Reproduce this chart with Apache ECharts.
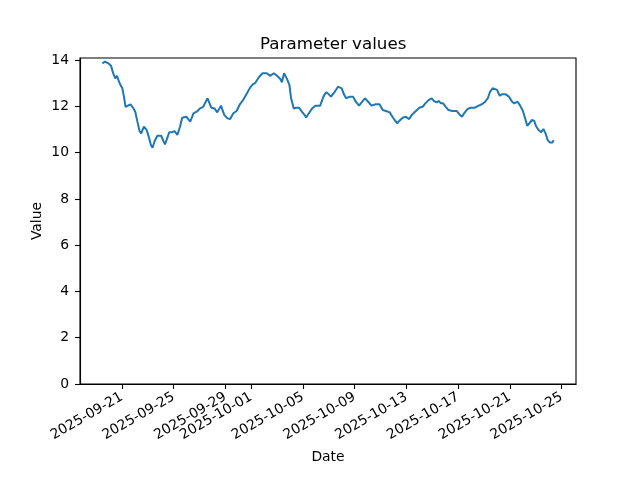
<!DOCTYPE html>
<html>
<head>
<meta charset="utf-8">
<script src="https://cdn.jsdelivr.net/npm/echarts@6/dist/echarts.min.js"></script>
<style>html,body{margin:0;padding:0;background:#fff}#c{width:640px;height:480px}</style>
</head>
<body>
<div id="c"></div>
<script>
const dates = [
'2025-09-19 12:00','2025-09-19 17:00','2025-09-19 23:00','2025-09-20 04:00','2025-09-20 08:00','2025-09-20 12:00','2025-09-20 15:00','2025-09-20 20:00',
'2025-09-21 01:00','2025-09-21 04:00','2025-09-21 07:00','2025-09-21 10:00','2025-09-21 16:00','2025-09-21 21:00',
'2025-09-22 01:00','2025-09-22 05:00','2025-09-22 09:00','2025-09-22 12:00','2025-09-22 17:00','2025-09-22 22:00',
'2025-09-23 02:00','2025-09-23 06:00','2025-09-23 09:00','2025-09-23 13:00','2025-09-23 18:00',
'2025-09-24 01:00','2025-09-24 08:00','2025-09-24 11:00','2025-09-24 16:00','2025-09-24 21:00',
'2025-09-25 02:00','2025-09-25 07:00','2025-09-25 12:00','2025-09-25 16:00',
'2025-09-26 00:00','2025-09-26 07:00','2025-09-26 13:00','2025-09-26 19:00',
'2025-09-27 01:00','2025-09-27 07:00','2025-09-27 15:00','2025-09-27 22:00',
'2025-09-28 04:00','2025-09-28 09:00','2025-09-28 16:00','2025-09-28 22:00',
'2025-09-29 04:00','2025-09-29 09:00','2025-09-29 15:00','2025-09-29 21:00',
'2025-09-30 03:00','2025-09-30 09:00','2025-09-30 16:00','2025-09-30 22:00',
'2025-10-01 03:00','2025-10-01 07:00','2025-10-01 11:00','2025-10-01 15:00','2025-10-01 21:00',
'2025-10-02 05:00','2025-10-02 11:00','2025-10-02 18:00',
'2025-10-03 00:00','2025-10-03 06:00','2025-10-03 09:00','2025-10-03 13:00','2025-10-03 18:00','2025-10-03 23:00',
'2025-10-04 02:00','2025-10-04 07:00','2025-10-04 11:00','2025-10-04 17:00','2025-10-04 22:00',
'2025-10-05 03:00','2025-10-05 06:00','2025-10-05 11:00','2025-10-05 17:00','2025-10-05 23:00',
'2025-10-06 08:00','2025-10-06 14:00','2025-10-06 19:00',
'2025-10-07 00:00','2025-10-07 04:00','2025-10-07 11:00','2025-10-07 17:00',
'2025-10-08 00:00','2025-10-08 04:00','2025-10-08 08:00','2025-10-08 15:00','2025-10-08 21:00',
'2025-10-09 02:00','2025-10-09 08:00','2025-10-09 14:00','2025-10-09 19:00',
'2025-10-10 01:00','2025-10-10 07:00','2025-10-10 15:00','2025-10-10 22:00',
'2025-10-11 04:00','2025-10-11 10:00','2025-10-11 17:00','2025-10-11 22:00',
'2025-10-12 02:00','2025-10-12 07:00','2025-10-12 11:00','2025-10-12 17:00','2025-10-12 23:00',
'2025-10-13 05:00','2025-10-13 10:00','2025-10-13 16:00',
'2025-10-14 00:00','2025-10-14 06:00','2025-10-14 11:00','2025-10-14 17:00','2025-10-14 23:00',
'2025-10-15 03:00','2025-10-15 08:00','2025-10-15 12:00','2025-10-15 16:00','2025-10-15 20:00',
'2025-10-16 01:00','2025-10-16 06:00','2025-10-16 13:00','2025-10-16 21:00',
'2025-10-17 02:00','2025-10-17 07:00','2025-10-17 11:00','2025-10-17 17:00','2025-10-17 23:00',
'2025-10-18 07:00','2025-10-18 14:00','2025-10-18 20:00',
'2025-10-19 02:00','2025-10-19 07:00','2025-10-19 11:00','2025-10-19 16:00','2025-10-19 19:00',
'2025-10-20 00:00','2025-10-20 05:00','2025-10-20 09:00','2025-10-20 16:00','2025-10-20 22:00',
'2025-10-21 04:00','2025-10-21 08:00','2025-10-21 14:00','2025-10-21 19:00',
'2025-10-22 00:00','2025-10-22 05:00','2025-10-22 08:00','2025-10-22 12:00','2025-10-22 17:00','2025-10-22 21:00',
'2025-10-23 00:00','2025-10-23 05:00','2025-10-23 10:00','2025-10-23 14:00','2025-10-23 18:00','2025-10-23 22:00',
'2025-10-24 02:00','2025-10-24 07:00','2025-10-24 09:00'
];
const values = [
13.86,13.93,13.86,13.76,13.43,13.21,13.32,13.00,
12.78,12.42,11.98,11.91,12.09,11.94,
11.77,11.34,10.93,10.83,11.12,10.98,
10.69,10.33,10.21,10.50,10.73,
10.73,10.36,10.54,10.88,10.88,
10.93,10.76,11.12,11.51,
11.55,11.34,11.70,11.77,
11.91,11.98,12.35,11.94,
11.91,11.74,12.03,11.63,
11.48,11.45,11.70,11.80,
12.09,12.27,12.56,12.81,
12.95,13.00,13.14,13.28,13.43,
13.43,13.32,13.43,
13.32,13.18,13.04,13.43,13.21,12.92,
12.35,11.91,11.94,11.94,11.77,
11.63,11.52,11.70,11.91,12.03,
12.03,12.42,12.61,
12.52,12.42,12.63,12.85,
12.78,12.52,12.35,12.42,12.42,
12.20,12.03,12.20,12.35,
12.20,12.03,12.09,12.09,
11.84,11.80,11.74,11.55,
11.41,11.27,11.38,11.51,11.55,
11.45,11.63,11.77,
11.94,11.98,12.13,12.27,12.35,
12.23,12.17,12.23,12.13,12.13,
11.98,11.84,11.80,11.80,
11.66,11.55,11.70,11.88,11.94,
11.94,12.03,12.09,
12.20,12.35,12.63,12.78,12.85,
12.71,12.46,12.52,12.52,12.42,
12.20,12.13,12.20,12.03,
11.80,11.41,11.16,11.27,11.41,11.37,
11.16,10.98,10.88,11.02,10.83,10.54,
10.44,10.44,10.54
];
const xTickLabels = ['2025-09-21','2025-09-25','2025-09-29','2025-10-01','2025-10-05','2025-10-09','2025-10-13','2025-10-17','2025-10-21','2025-10-25'];
const yTickValues = [0,2,4,6,8,10,12,14];
const xRange = ['2025-09-17 18:30','2025-10-26 02:30'];

function parseUTC(s){
  const [d,t] = s.split(' ');
  const [Y,M,D] = d.split('-').map(Number);
  let h=0,mi=0;
  if(t){ [h,mi] = t.split(':').map(Number); }
  return Date.UTC(Y,M-1,D,h,mi);
}
function fmt(v){ return new Date(v).toISOString().slice(0,10); }

const data = dates.map((d,i)=>[parseUTC(d), values[i]]);
const xTicks = xTickLabels.map(parseUTC);
const font = 'DejaVu Sans';

const chart = echarts.init(document.getElementById('c'), null, {renderer:'canvas'});
chart.setOption({
  animation:false,
  backgroundColor:'#fff',
  title:{text:'Parameter values', left:255, top:31,
    textStyle:{fontFamily:font, fontSize:16.7, fontWeight:'normal', color:'#000'}},
  grid:{left:80, right:64, top:58, bottom:96, show:true, borderColor:'#000', borderWidth:1.1, containLabel:false},
  xAxis:{
    type:'value', min:parseUTC(xRange[0]), max:parseUTC(xRange[1]),
    name:'Date', nameLocation:'middle', nameGap:66, nameMoveOverlap:false,
    nameTextStyle:{fontFamily:font, fontSize:13.9, color:'#000'},
    axisLine:{show:true, lineStyle:{color:'#000', width:1.1}},
    axisTick:{show:true, customValues:xTicks, length:5, lineStyle:{color:'#000', width:1.1}},
    axisLabel:{show:true, customValues:xTicks, rotate:30, margin:12, formatter:fmt,
      fontFamily:font, fontSize:13.9, color:'#000'},
    splitLine:{show:false}
  },
  yAxis:{
    type:'value', min:0, max:14.09,
    name:'Value', nameLocation:'middle', nameGap:36, nameMoveOverlap:false,
    nameTextStyle:{fontFamily:font, fontSize:13.9, color:'#000'},
    axisLine:{show:true, lineStyle:{color:'#000', width:1.1}},
    axisTick:{show:true, customValues:yTickValues, length:5, lineStyle:{color:'#000', width:1.1}},
    axisLabel:{show:true, customValues:yTickValues, margin:11, fontFamily:font, fontSize:13.9, color:'#000'},
    splitLine:{show:false}
  },
  series:[{
    type:'line', data:data, showSymbol:false, symbol:'none',
    lineStyle:{color:'#1f77b4', width:2}, itemStyle:{color:'#1f77b4'}
  }]
});
</script>
</body>
</html>
